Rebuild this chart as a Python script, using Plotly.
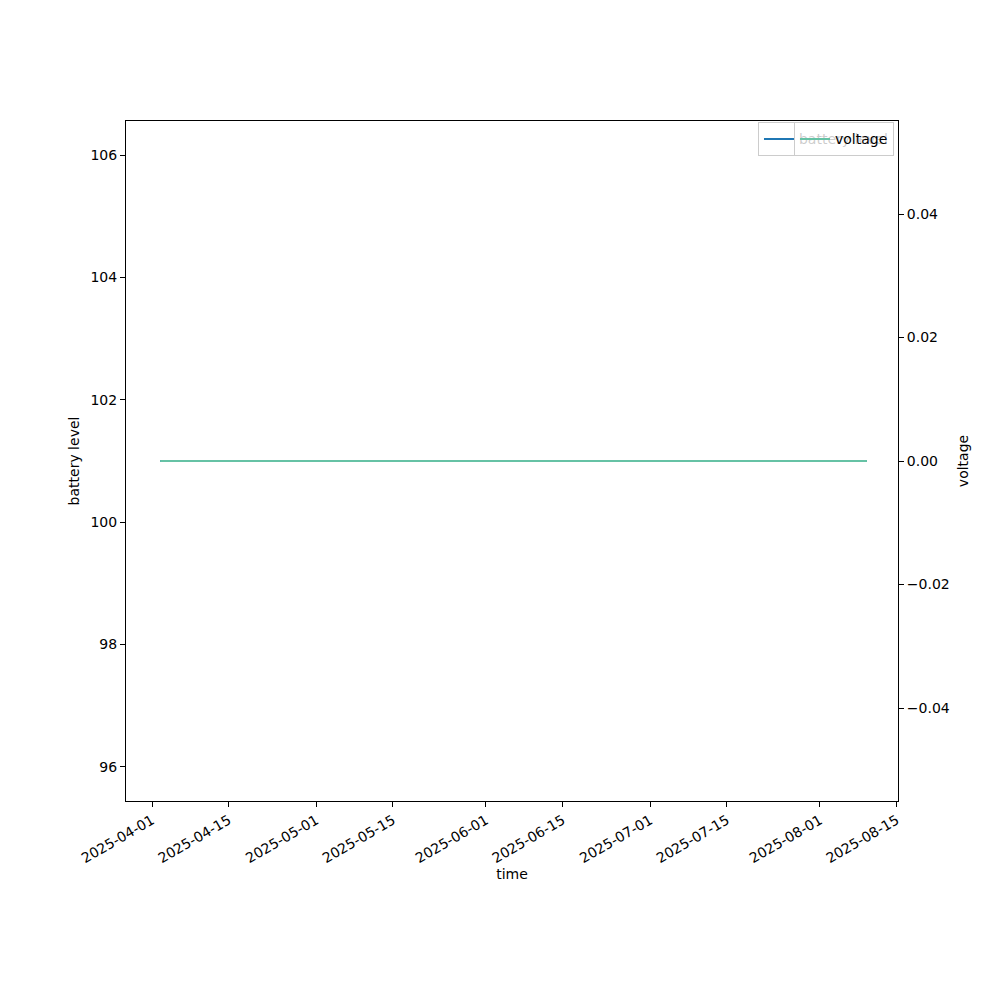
import plotly.graph_objects as go

# data
time = ["2025-04-02 12:00", "2025-08-09 14:00"]
battery_level = [101, 101]
voltage = [0, 0]

x_ticks = ["2025-04-01", "2025-04-15", "2025-05-01", "2025-05-15", "2025-06-01",
           "2025-06-15", "2025-07-01", "2025-07-15", "2025-08-01", "2025-08-15"]
left_ticks = [96, 98, 100, 102, 104, 106]
right_ticks = [-0.04, -0.02, 0.0, 0.02, 0.04]

BLUE = '#1f77b4'
TEAL = '#66c2a5'
FONT = dict(family='DejaVu Sans', size=14, color='black')

fig = go.Figure()
fig.add_trace(go.Scatter(
    x=time, y=battery_level, mode='lines', name='battery level',
    line=dict(color=BLUE, width=2), legend='legend', showlegend=True,
))
fig.add_trace(go.Scatter(
    x=time, y=voltage, mode='lines', name='voltage',
    line=dict(color=TEAL, width=2), yaxis='y2', legend='legend2', showlegend=True,
))

axis_common = dict(
    showgrid=False, zeroline=False, showline=True, linecolor='black', linewidth=1,
    ticks='outside', ticklen=5, tickcolor='black', tickfont=FONT,
)

# two separate legends stacked on top of each other, as in the original
legend_box = dict(
    x=0.9948, y=0.998, xanchor='right', yanchor='top',
    bgcolor='rgba(255,255,255,0.8)', bordercolor='#cccccc', borderwidth=1,
    font=FONT, itemwidth=30,
)

fig.update_layout(
    width=1000, height=1000,
    paper_bgcolor='white', plot_bgcolor='white',
    font=FONT,
    showlegend=True,
    margin=dict(l=118, r=110, t=113, b=207, autoexpand=False),
    xaxis=dict(
        **axis_common, mirror=True,
        range=["2025-03-27 06:00", "2025-08-15 06:00"],
        tickvals=x_ticks, ticktext=x_ticks, tickangle=-30,
        title=dict(text='time', font=FONT, standoff=4),
    ),
    yaxis=dict(
        **axis_common, range=[95.44, 106.56], tickvals=left_ticks,
        title=dict(text='battery level', font=FONT, standoff=7),
    ),
    yaxis2=dict(
        **axis_common, overlaying='y', side='right', range=[-0.05506, 0.05506],
        tickvals=right_ticks, tickformat='.2f',
        title=dict(text='voltage', font=FONT, standoff=9),
    ),
    legend=legend_box,
    legend2=legend_box,
)

fig.write_html("out.html")
